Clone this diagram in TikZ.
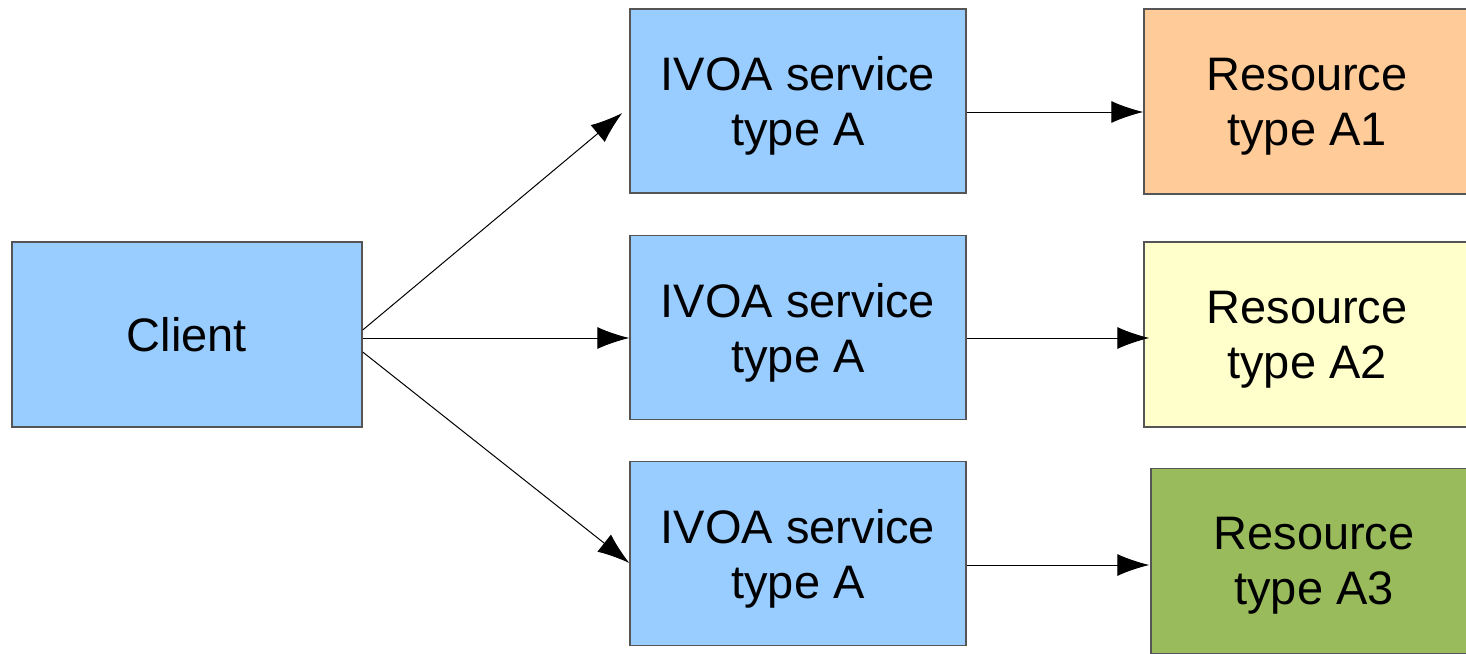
\documentclass[tikz,border=0pt]{standalone}
\usepackage{fontspec}
\setmainfont{Liberation Sans}
\usetikzlibrary{arrows.meta}
\definecolor{svcblue}{HTML}{99CCFF}
\definecolor{resorange}{HTML}{FFCC99}
\definecolor{resyellow}{HTML}{FFFFCC}
\definecolor{resgreen}{HTML}{99BB5C}
\definecolor{edge}{HTML}{555555}
\tikzset{
  box/.style={draw=edge,line width=0.7pt,align=center,inner sep=0pt,text depth=0pt,
    font=\fontsize{23.5}{27.5}\selectfont},
  clientbox/.style={box,fill=svcblue,minimum width=175pt,minimum height=92.5pt},
  svcbox/.style={box,fill=svcblue,minimum width=168pt,minimum height=92pt},
  resbox/.style={box,minimum width=163pt,minimum height=92.5pt},
  link/.style={line width=0.5pt,-{Latex[length=16pt,width=11pt]}}
}
\begin{document}
\begin{tikzpicture}[x=0.5pt,y=-0.5pt]
\useasboundingbox (0,0) rectangle (1466,653);
\node[clientbox] (client) at (187,334.5) {Client};
\node[svcbox] (s1) at (798,101) {IVOA service\\type A};
\node[svcbox] (s2) at (798,327.5) {IVOA service\\type A};
\node[svcbox] (s3) at (798,553.5) {IVOA service\\type A};
\node[resbox,fill=resorange] (r1) at (1307,101.5) {Resource\\type A1};
\node[resbox,fill=resyellow] (r2) at (1307,334.5) {Resource\\type A2};
\node[resbox,fill=resgreen] (r3) at (1314,561) {Resource\\type A3};
%client to the services
\draw[link] ([yshift=2.25pt]client.east) -- ([xshift=-3.5pt,yshift=-6pt]s1.west);
\draw[link] ([yshift=-1.75pt]client.east) -- ([yshift=-5.25pt]s2.west);
\draw[link] ([yshift=-8.75pt]client.east) -- ([yshift=-4.75pt]s3.west);
%services to the resources
\draw[link] ([yshift=-5.5pt]s1.east) -- ([yshift=-5.25pt]r1.west);
\draw[link] ([yshift=-5.25pt]s2.east) -- ([xshift=3pt,yshift=-1.75pt]r2.west);
\draw[link] ([yshift=-5.75pt]s3.east) -- ([xshift=-0.5pt,yshift=-2pt]r3.west);
\end{tikzpicture}
\end{document}
